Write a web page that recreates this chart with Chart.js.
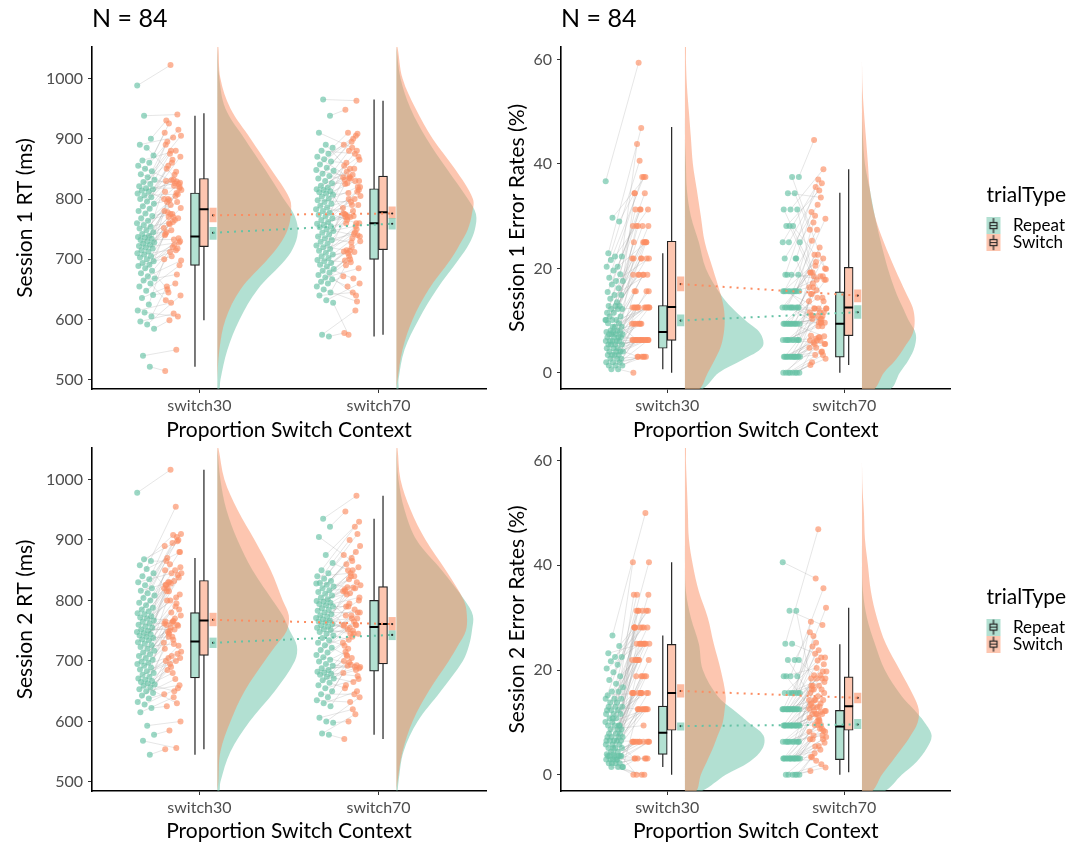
<!DOCTYPE html>
<html>
<head>
<meta charset="utf-8">
<title>RT and error rates by switch context</title>
<script src="https://cdn.jsdelivr.net/npm/chart.js@4.4.1/dist/chart.umd.min.js"></script>
<style>
  body { margin: 0; background: #fff; }
  canvas { position: absolute; }
</style>
</head>
<body>
<canvas id="rt1" width="500" height="443" style="left:0;top:0"></canvas>
<canvas id="er1" width="578" height="443" style="left:500px;top:0"></canvas>
<canvas id="rt2" width="500" height="443" style="left:0;top:401px"></canvas>
<canvas id="er2" width="578" height="443" style="left:500px;top:401px"></canvas>
<script>
const contexts = ['switch30', 'switch70'];
const trialTypes = ['Repeat', 'Switch'];

// one value per participant, same participant order in every list
const rt1Rep30 = [522,540,585,592,597,605,612,615,625,636,641,648,655,660,665,668,672,677,681,685,689,
  691,694,697,700,703,705,708,710,713,715,718,720,722,724,726,728,730,732,734,736,737,
  739,742,745,748,751,754,757,760,764,768,772,776,780,784,788,792,796,800,803,806,809,
  812,814,816,818,821,825,828,832,836,841,846,850,855,860,864,872,885,890,900,938,988];
const rt1Sw30 = [515,550,599,640,610,655,605,628,700,660,645,690,720,632,675,712,698,724,650,735,705,
  740,715,760,730,770,745,718,790,752,765,800,728,775,742,810,758,785,733,795,768,748,
  780,805,770,820,762,830,795,775,815,840,778,825,860,812,845,798,870,832,850,808,880,
  800,826,855,818,865,890,829,875,905,822,895,915,831,910,880,925,827,902,930,940,1022];
const rt1Rep70 = [572,575,628,632,640,645,650,655,660,663,667,670,674,678,681,684,688,691,694,697,699,
  702,705,708,711,714,717,720,723,726,729,732,735,738,741,744,747,750,753,755,757,759,
  762,765,768,771,774,777,780,783,786,789,792,795,798,801,804,807,809,811,813,815,816,
  819,822,826,830,834,838,842,847,852,857,862,866,870,875,880,885,890,910,938,965,848];
const rt1Sw70 = [578,615,575,660,645,690,630,700,672,712,655,685,720,698,640,705,730,668,715,740,695,
  713,745,710,760,735,770,750,714,785,742,765,790,728,775,755,800,738,780,760,812,770,
  776,800,770,815,790,825,760,835,805,772,845,820,795,855,830,810,865,840,774,880,850,
  836,850,826,870,895,832,905,880,820,900,860,908,834,890,875,910,830,885,948,963,837];

const rt2Rep30 = [545,568,578,593,615,622,628,632,638,643,647,650,653,656,659,661,663,665,667,669,671,
  674,677,680,683,686,689,692,695,697,699,702,705,708,711,714,717,720,723,726,729,731,
  734,736,738,740,742,744,746,748,750,752,755,757,760,762,765,767,770,772,774,777,779,
  782,785,788,792,796,800,804,808,812,816,820,825,830,835,840,845,852,858,865,868,978];
const rt2Sw30 = [554,556,585,600,640,625,655,690,645,670,705,660,680,700,630,695,715,650,685,725,708,
  720,700,745,705,735,760,712,755,730,770,748,785,740,765,795,750,775,728,800,758,780,
  762,790,740,810,765,825,760,800,845,752,820,838,763,850,805,830,855,766,815,842,828,
  820,850,830,880,895,826,905,860,910,832,870,900,845,890,955,815,880,908,865,898,1016];
const rt2Rep70 = [578,580,598,600,606,625,630,635,640,645,650,655,660,664,668,671,674,677,679,681,682,
  685,688,692,695,699,702,706,710,714,718,722,726,730,734,738,742,745,748,751,753,755,
  757,759,761,763,765,767,769,771,773,775,777,780,783,785,787,790,792,794,796,798,799,
  802,805,808,811,814,817,820,823,826,829,832,836,840,845,850,862,875,905,922,935,828];
const rt2Sw70 = [571,612,600,640,620,660,650,632,680,645,692,670,705,655,685,698,690,665,710,675,694,
  700,690,720,688,740,715,693,755,730,765,708,745,775,725,760,735,780,750,790,770,745,
  758,785,752,800,770,815,759,795,825,745,810,780,840,760,820,790,805,850,775,830,812,
  815,840,822,855,870,818,880,835,890,821,860,910,845,875,922,850,930,865,947,973,900];

const er1Rep30 = [0.7,0.7,1.4,1.4,1.4,2.0,2.0,2.0,2.7,2.7,2.7,3.4,3.4,3.4,3.4,4.1,4.1,4.1,4.1,4.7,4.7,
  4.7,5.4,5.4,5.4,5.4,6.1,6.1,6.1,6.1,6.1,6.8,6.8,6.8,6.8,7.4,7.4,7.4,7.4,7.8,7.8,7.8,
  8.1,8.1,8.8,8.8,9.5,9.5,10.1,10.1,10.1,10.8,10.8,11.5,11.5,12.2,12.2,12.2,12.8,12.8,12.8,8.8,10.1,
  13.5,14.2,14.9,14.9,15.5,16.2,16.9,17.6,17.6,18.2,18.9,19.6,20.3,20.3,21.6,22.3,22.3,22.9,29.0,29.7,36.7];
const er1Sw30 = [0,3.1,3.1,6.3,3.1,6.3,3.1,6.3,6.3,3.1,6.3,6.3,6.3,9.4,6.3,3.1,12.5,6.3,9.4,15.6,6.3,
  6.3,6.3,12.5,6.3,9.4,15.6,6.3,12.5,9.4,18.8,6.3,12.5,9.4,21.9,12.5,9.4,15.6,6.3,12.5,25,9.4,
  12.5,18.8,6.3,12.5,21.9,12.5,25,18.8,12.5,28.1,15.6,21.9,31.3,18.8,25,12.5,28.1,21.9,34.4,12.5,18.8,
  21.9,25,28.1,18.8,31.3,25,34.4,28.1,21.9,37.5,31.3,25,40.6,28.1,37.5,43.8,31.3,46.9,34.4,37.5,59.4];
const er1Rep70 = [0,0,0,0,0,0,0,0,3.1,3.1,3.1,3.1,3.1,3.1,3.1,3.1,3.1,3.1,3.1,3.1,3.1,
  3.1,6.3,6.3,6.3,6.3,6.3,6.3,6.3,6.3,6.3,6.3,9.4,9.4,9.4,9.4,9.4,9.4,9.4,9.4,9.4,9.4,
  9.4,9.4,12.5,12.5,12.5,12.5,12.5,12.5,12.5,12.5,12.5,12.5,15.6,15.6,15.6,15.6,15.6,15.6,15.6,15.6,15.6,
  15.6,18.8,18.8,18.8,21.9,21.9,25,25,28.1,28.1,31.3,31.3,31.3,34.4,34.4,37.5,37.5,18.8,21.9,28.1,25];
const er1Sw70 = [1.5,4.0,5.5,2.7,6.8,2.0,3.4,4.8,4.8,6.2,5.8,5.5,10.9,7.1,4.1,3.4,12.3,6.8,11.0,13.7,6.2,
  6.2,9.6,12.3,5.5,8.9,15.1,10.9,6.5,13.7,11.6,16.4,7.0,14.4,19.2,10.3,12.3,17.8,9.6,10.3,21.9,15.8,
  11.6,10.3,18.5,9.6,22.6,11.0,8.9,20.5,12.3,24.0,17.1,11.6,27.4,19.2,9.6,22.6,29.5,12.3,25.3,18.5,21.2,
  16.4,18.5,28.8,17.8,32.2,15.1,36.3,30.1,19.9,34.9,19.2,39.0,17.8,27.4,33.6,44.6,20.0,37.0,30.8,14.4,35.6];

const er2Rep30 = [1.5,1.5,1.5,2.2,2.2,2.2,2.9,2.9,2.9,2.9,3.6,3.6,3.6,3.6,2.2,1.5,2.9,3.6,3.6,3.9,3.9,
  4.4,4.4,5.1,5.1,5.1,5.8,5.8,5.8,6.5,6.5,6.5,6.5,7.2,7.2,7.2,7.2,7.9,7.9,7.9,5.1,6.5,
  8.7,8.7,8.7,9.4,9.4,9.4,10.1,10.1,10.8,10.8,11.6,11.6,12.3,12.3,12.3,13.0,13.0,13.0,9.4,10.8,11.6,
  13.8,13.8,14.5,14.5,15.2,15.9,15.9,16.7,17.4,18.1,18.8,19.6,20.3,21.0,21.7,22.5,22.5,23.2,24.6,26.6,14.5];
const er2Sw30 = [0,0,3.1,6.3,0,3.1,3.1,6.3,6.3,6.3,0,3.1,15.6,6.3,3.1,12.5,6.3,18.8,6.3,12.5,6.3,
  6.3,12.5,6.3,15.6,18.8,3.1,12.5,21.9,15.6,12.5,18.8,6.3,25,15.6,18.8,12.5,21.9,15.6,28.1,18.8,12.5,
  15.6,9.4,25,12.5,15.6,28.1,12.5,15.6,25,31.3,21.9,15.6,28.1,15.6,25,21.9,34.4,12.5,28.1,25,21.9,
  21.9,25,31.3,28.1,15.6,34.4,25,31.3,40.6,28.1,21.9,31.3,25,40.6,28.1,34.4,31.3,25,28.1,50,31.3];
const er2Rep70 = [0,0,0,0,0,0,3.1,3.1,3.1,3.1,3.1,3.1,3.1,3.1,3.1,3.1,3.1,3.1,3.1,3.1,3.1,
  3.1,6.3,6.3,6.3,6.3,6.3,6.3,6.3,6.3,6.3,6.3,9.4,9.4,9.4,9.4,9.4,9.4,9.4,9.4,9.4,9.4,
  9.4,9.4,9.4,9.4,9.4,9.4,12.5,12.5,12.5,12.5,12.5,12.5,12.5,12.5,12.5,12.5,12.5,12.5,12.5,12.5,12.5,
  12.5,12.5,15.6,15.6,15.6,15.6,15.6,15.6,15.6,18.8,18.8,18.8,18.8,21.9,21.9,21.9,25,25,31.3,31.3,40.6];
const er2Sw70 = [0.7,2.0,4.1,1.4,5.5,3.4,6.8,2.7,8.2,4.8,7.5,6.1,9.5,3.4,8.8,5.4,7.2,10.2,6.8,8.4,11.6,
  6.8,9.5,12.2,8.2,10.9,13.6,7.5,11.6,14.3,8.8,12.9,15.6,10.2,13.4,16.3,9.5,12.2,17.0,11.6,14.3,18.4,
  10.9,13.6,16.3,12.2,15.0,18.4,11.6,14.3,19.7,13.0,17.0,21.1,12.9,15.6,22.4,14.3,18.4,23.8,16.3,19.7,25.2,
  12.6,19.0,26.5,17.7,21.8,29.2,18.4,23.1,31.9,10.5,24.5,35.6,20.4,27.2,12.0,19.0,22.4,46.9,17.0,28.6,37.5];

// box stats per context [switch30, switch70]: lower whisker, Q1, median, Q3, upper whisker
const rt1BoxRep = [[522, 690, 738, 810, 938], [572, 700, 760, 817, 965]];
const rt1BoxSw = [[599, 721, 783, 834, 942], [575, 716, 778, 838, 963]];
const rt2BoxRep = [[545, 672, 732, 780, 870], [578, 683, 756, 800, 935]];
const rt2BoxSw = [[554, 709, 767, 833, 1016], [571, 695, 761, 823, 973]];
const er1BoxRep = [[0.7, 4.7, 7.8, 12.9, 22.9], [0, 3.0, 9.4, 15.5, 34.5]];
const er1BoxSw = [[0, 6.2, 12.6, 25.2, 47.1], [1.5, 7.1, 12.5, 20.2, 39.0]];
const er2BoxRep = [[1.5, 3.9, 8.0, 13.1, 26.6], [0, 2.9, 9.2, 12.3, 24.9]];
const er2BoxSw = [[0, 8.5, 15.6, 24.9, 40.6], [0.5, 8.5, 13.1, 18.7, 31.9]];

// mean with confidence band: mean, lower, upper
const rt1MeanRep = [[744, 733, 753], [759, 750, 768]];
const rt1MeanSw = [[773, 762, 785], [776, 768, 787]];
const rt2MeanRep = [[730, 722, 738], [743, 735, 750]];
const rt2MeanSw = [[768, 758, 779], [761, 751, 772]];
const er1MeanRep = [[10.0, 9.0, 11.1], [11.6, 10.4, 12.9]];
const er1MeanSw = [[17.0, 15.7, 18.4], [14.8, 13.6, 15.9]];
const er2MeanRep = [[9.3, 8.5, 9.9], [9.6, 8.8, 10.6]];
const er2MeanSw = [[16.0, 14.8, 17.2], [14.7, 13.7, 15.6]];

// half-violin densities, evaluated on the grids below
const rtGrid = [485, 500, 550, 600, 650, 700, 725, 750, 775, 800, 850, 900, 950, 1000, 1052];
const erGrid = [-3.2, 0, 2.5, 5, 7.5, 10, 12.5, 15, 20, 25, 30, 35, 40, 45, 50, 55, 60, 62.5];
const rt1DensRep = [[2, 3, 10, 22, 40, 68, 77, 80, 76, 66, 47, 27, 8, 2, 0], [2, 2, 8, 22, 40, 62, 72, 78, 79, 71, 50, 30, 14, 4, 0]];
const rt1DensSw = [[0, 0, 2, 8, 23, 50, 62, 70, 73, 72, 53, 33, 13, 3, 1], [0, 1, 6, 16, 32, 54, 63, 71, 75, 76, 58, 36, 19, 6, 1]];
const rt2DensRep = [[2, 3, 13, 32, 57, 77, 79, 72, 65, 55, 35, 20, 9, 3, 0], [1, 2, 7, 21, 44, 66, 72, 75, 76, 68, 45, 20, 8, 2, 0]];
const rt2DensSw = [[0, 1, 3, 13, 27, 47, 58, 69, 71, 65, 53, 37, 20, 7, 1], [0, 1, 6, 16, 32, 52, 61, 69, 70, 67, 49, 29, 14, 4, 1]];
const er1DensRep = [[17, 34, 58, 78, 76, 61, 47, 36, 21, 14, 6, 2, 1, 0, 0, 0, 0, 0], [28, 38, 47, 53, 54, 47, 41, 35, 26, 19, 13, 8, 3, 1, 0, 0, 0, 0]];
const er1DensSw = [[14, 23, 30, 36, 39, 40, 39, 36, 28, 20, 16, 12, 8, 6, 4, 2, 1, 1], [12, 22, 34, 43, 51, 53, 51, 45, 33, 22, 13, 8, 6, 4, 2, 0.5, 0, 0]];
const er2DensRep = [[16, 41, 65, 78, 79, 64, 48, 33, 18, 14, 6, 1, 0, 0, 0, 0, 0, 0], [22, 40, 55, 65, 70, 63, 52, 40, 23, 13, 5, 1, 0, 0, 0, 0, 0, 0]];
const er2DensSw = [[11, 16, 22, 28, 33, 38, 40, 41, 36, 29, 23, 14, 8, 4, 3, 2, 1, 1], [10, 20, 30, 40, 49, 56, 57, 52, 38, 24, 15, 9, 6, 3, 2, 0.5, 0, 0]];

const rtTicks = [500, 600, 700, 800, 900, 1000];
const erTicks = [0, 20, 40, 60];

// styling
const typeColor = ['#66C2A5', '#FC8D62'];
const boxFill = ['#B3E1D2', '#FDC6B0'];
const pointOff = [-0.3, -0.15];
const boxOff = [-0.025, 0.025];
const meanOff = 0.076;
const densOff = 0.1;
const densScale = 1 / 178;
const jitterW = 0.1;
const jitterSeed = [0.11, 0.47];

Chart.defaults.font.family = 'Lato, "Open Sans", sans-serif';
Chart.defaults.color = '#4D4D4D';

function rgba(hex, a) {
  const n = parseInt(hex.slice(1), 16);
  return `rgba(${n >> 16},${(n >> 8) & 255},${n & 255},${a})`;
}

// spread dots sideways so equal values don't pile up
function jitter(i, seed) {
  return (((i + 1) * 0.618034 + seed) % 1 - 0.5) * jitterW;
}

// little boxplot key for the legend
function legendIcon(ti) {
  const cv = document.createElement('canvas');
  cv.width = 18; cv.height = 17;
  const g = cv.getContext('2d');
  g.fillStyle = rgba(typeColor[ti], 0.5);
  g.fillRect(0, 0, 14, 17);
  g.strokeStyle = '#222';
  g.lineWidth = 1.2;
  g.strokeRect(3.5, 5.5, 7, 6);
  g.beginPath();
  g.moveTo(7, 1); g.lineTo(7, 5.5);
  g.moveTo(7, 11.5); g.lineTo(7, 16);
  g.moveTo(3.5, 8.5); g.lineTo(10.5, 8.5);
  g.stroke();
  return cv;
}
const legendIcons = trialTypes.map((t, i) => legendIcon(i));

function drawPanel(id, p) {
  const ds = [];

  contexts.forEach((name, ci) => {
    const c = ci + 1;
    const [rep, sw] = p.points[ci];

    // participant lines between repeat and switch dots
    const pairs = [];
    rep.forEach((v, i) => {
      pairs.push({x: c + pointOff[0] + jitter(i, jitterSeed[0]), y: v},
                 {x: c + pointOff[1] + jitter(i, jitterSeed[1]), y: sw[i]},
                 {x: c, y: null});
    });
    ds.push({type: 'line', data: pairs, borderColor: 'rgba(150,150,150,0.3)', borderWidth: 0.8,
      pointRadius: 0, order: 30});

    p.points[ci].forEach((vals, ti) => {
      ds.push({type: 'scatter',
        data: vals.map((v, i) => ({x: c + pointOff[ti] + jitter(i, jitterSeed[ti]), y: v})),
        backgroundColor: rgba(typeColor[ti], 0.65), borderWidth: 0, pointRadius: 3, order: 28 - ti});
    });

    [p.densRep[ci], p.densSw[ci]].forEach((d, ti) => {
      const base = c + densOff;
      const shape = [{x: base, y: p.grid[0]}];
      p.grid.forEach((g, k) => shape.push({x: base + d[k] * densScale, y: g}));
      shape.push({x: base, y: p.grid[p.grid.length - 1]});
      ds.push({type: 'line', data: shape, fill: 'shape', backgroundColor: rgba(typeColor[ti], 0.5),
        borderColor: 'transparent', borderWidth: 0, pointRadius: 0, tension: 0.35, order: 20 - ti});
    });
  });

  [p.boxRep, p.boxSw].forEach((boxes, ti) => {
    const bx = ci => ci + 1 + boxOff[ti];
    ds.push({type: 'line',
      data: boxes.flatMap((b, ci) => [{x: bx(ci), y: b[0]}, {x: bx(ci), y: b[4]}, {x: bx(ci), y: null}]),
      borderColor: '#222', borderWidth: 1.2, pointRadius: 0, order: 12});
    ds.push({type: 'bar', data: boxes.map((b, ci) => ({x: bx(ci), y: [b[1], b[3]]})),
      backgroundColor: boxFill[ti], borderColor: '#222', borderWidth: 1.2, borderSkipped: false,
      grouped: false, barPercentage: 1, categoryPercentage: 1, maxBarThickness: 9, order: 10});
    ds.push({type: 'line',
      data: boxes.flatMap((b, ci) => [{x: bx(ci) - 0.025, y: b[2]}, {x: bx(ci) + 0.025, y: b[2]}, {x: bx(ci), y: null}]),
      borderColor: '#000', borderWidth: 2, pointRadius: 0, order: 8});
  });

  [p.meanRep, p.meanSw].forEach((means, ti) => {
    const at = means.map((m, ci) => ({x: ci + 1 + meanOff, y: m[0]}));
    ds.push({type: 'bar', data: means.map((m, ci) => ({x: ci + 1 + meanOff, y: [m[1], m[2]]})),
      backgroundColor: rgba(typeColor[ti], 0.6), borderWidth: 0, grouped: false,
      barPercentage: 1, categoryPercentage: 1, maxBarThickness: 6.5, order: 6});
    ds.push({type: 'scatter', data: at, backgroundColor: '#222', borderWidth: 0, pointRadius: 1.1, order: 4});
    ds.push({type: 'line', data: at, borderColor: typeColor[ti], borderWidth: 2, borderDash: [2, 5],
      pointRadius: 0, order: 2});
  });

  const axisGrid = {drawOnChartArea: false, tickLength: 4, color: '#333', offset: false};
  const axisBorder = {color: '#000', width: 1.6};
  const scales = {
    x: {
      type: 'linear', min: 0.4, max: 2.6, offset: false,
      afterBuildTicks: s => { s.ticks = contexts.map((n, i) => ({value: i + 1})); },
      ticks: {callback: v => contexts[v - 1], font: {size: 16}, color: '#4D4D4D', padding: 3, maxRotation: 0},
      grid: axisGrid, border: axisBorder,
      title: {display: true, text: 'Proportion Switch Context', color: '#000', font: {size: 21}, padding: 0},
      afterFit: s => { s.height = p.xAxisH; }
    },
    y: {
      min: p.yMin, max: p.yMax, offset: false,
      afterBuildTicks: s => { s.ticks = p.ticks.map(v => ({value: v})); },
      ticks: {callback: v => String(v), font: {size: 16}, color: '#4D4D4D', padding: 5},
      grid: axisGrid, border: axisBorder,
      title: {display: true, text: p.yTitle, color: '#000', font: {size: 21}, padding: {top: p.yTitlePad, bottom: 0}},
      afterFit: s => { s.width = p.yAxisW; }
    }
  };
  if (p.legend) {
    // spacer between the panel and the legend
    scales.yGap = {position: 'right', display: true, grid: {display: false}, ticks: {display: false},
      border: {display: false}, afterFit: s => { s.width = 36; }};
  }

  new Chart(document.getElementById(id), {
    type: 'scatter',
    data: {datasets: ds},
    options: {
      responsive: false,
      animation: false,
      events: [],
      layout: {padding: {top: p.title ? 0 : 47, right: p.legend ? 3 : 14, bottom: 0, left: 0}},
      plugins: {
        tooltip: {enabled: false},
        title: p.title ? {display: true, text: p.title, align: 'start', fullSize: false, color: '#000',
          font: {size: 25, weight: 'normal'}, padding: {top: 4, bottom: 13}} : {display: false},
        legend: p.legend ? {
          position: 'right', align: 'center', fullSize: false,
          title: {display: true, text: 'trialType', color: '#000', font: {size: 21}, position: 'start',
            padding: {top: 0, bottom: 7}},
          labels: {usePointStyle: true, pointStyleWidth: 18, padding: 0, color: '#000', font: {size: 17},
            generateLabels: () => trialTypes.map((t, i) => ({text: t, pointStyle: legendIcons[i],
              fillStyle: 'transparent', strokeStyle: 'transparent', lineWidth: 0, hidden: false, datasetIndex: 0}))}
        } : {display: false}
      },
      scales: scales
    }
  });
}

const nLabel = 'N = ' + rt1Rep30.length;

drawPanel('rt1', {
  title: nLabel, yTitle: 'Session 1 RT (ms)', yMin: 485, yMax: 1052, ticks: rtTicks, grid: rtGrid,
  yAxisW: 92, yTitlePad: 12.4, xAxisH: 54, legend: false,
  points: [[rt1Rep30, rt1Sw30], [rt1Rep70, rt1Sw70]],
  boxRep: rt1BoxRep, boxSw: rt1BoxSw, meanRep: rt1MeanRep, meanSw: rt1MeanSw,
  densRep: rt1DensRep, densSw: rt1DensSw
});
drawPanel('er1', {
  title: nLabel, yTitle: 'Session 1 Error Rates (%)', yMin: -3.1, yMax: 62.4, ticks: erTicks, grid: erGrid,
  yAxisW: 61, yTitlePad: 4.5, xAxisH: 54, legend: true,
  points: [[er1Rep30, er1Sw30], [er1Rep70, er1Sw70]],
  boxRep: er1BoxRep, boxSw: er1BoxSw, meanRep: er1MeanRep, meanSw: er1MeanSw,
  densRep: er1DensRep, densSw: er1DensSw
});
drawPanel('rt2', {
  title: null, yTitle: 'Session 2 RT (ms)', yMin: 485, yMax: 1052, ticks: rtTicks, grid: rtGrid,
  yAxisW: 92, yTitlePad: 12.4, xAxisH: 53, legend: false,
  points: [[rt2Rep30, rt2Sw30], [rt2Rep70, rt2Sw70]],
  boxRep: rt2BoxRep, boxSw: rt2BoxSw, meanRep: rt2MeanRep, meanSw: rt2MeanSw,
  densRep: rt2DensRep, densSw: rt2DensSw
});
drawPanel('er2', {
  title: null, yTitle: 'Session 2 Error Rates (%)', yMin: -3.1, yMax: 62.4, ticks: erTicks, grid: erGrid,
  yAxisW: 61, yTitlePad: 4.5, xAxisH: 53, legend: true,
  points: [[er2Rep30, er2Sw30], [er2Rep70, er2Sw70]],
  boxRep: er2BoxRep, boxSw: er2BoxSw, meanRep: er2MeanRep, meanSw: er2MeanSw,
  densRep: er2DensRep, densSw: er2DensSw
});
</script>
</body>
</html>
